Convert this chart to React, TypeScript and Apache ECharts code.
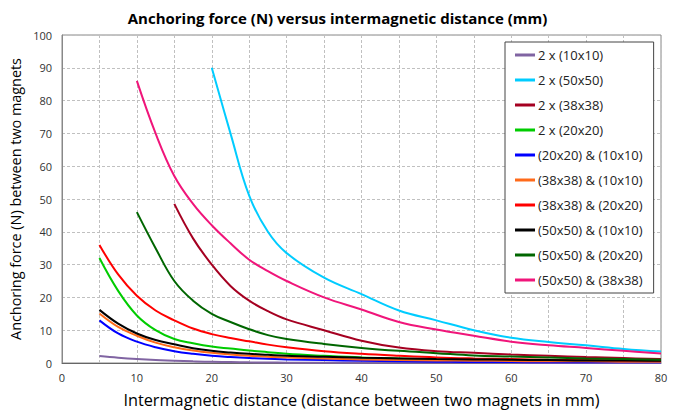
import React, { useEffect, useRef } from "react";
import * as echarts from "echarts";

const distances = [5, 7.5, 10, 12.5, 15, 17.5, 20, 22.5, 25, 27.5, 30, 35, 40, 45, 50, 55, 60, 65, 70, 75, 80];

const seriesNames = [
  "2 x (10x10)",
  "2 x (50x50)",
  "2 x (38x38)",
  "2 x (20x20)",
  "(20x20) & (10x10)",
  "(38x38) & (10x10)",
  "(38x38) & (20x20)",
  "(50x50) & (10x10)",
  "(50x50) & (20x20)",
  "(50x50) & (38x38)",
];

const seriesColors = [
  "#8064a2",
  "#00ccff",
  "#a50021",
  "#00cc00",
  "#0000ff",
  "#ff6a1a",
  "#ff0000",
  "#000000",
  "#006600",
  "#f0157a",
];

// null = not measured at that distance
const v10x10 = [2.1, 1.6, 1.2, 0.9, 0.7, 0.5, 0.35, 0.3, 0.2, 0.15, 0.1, 0.08, 0.06, 0.05, 0.05, 0.04, 0.04, 0.03, 0.03, 0.03, 0.03];
const v50x50 = [null, null, null, null, null, null, 90, 70, 51, 40, 33.5, 26, 21, 16, 13, 10, 7.7, 6.4, 5.4, 4.3, 3.5];
const v38x38 = [null, null, null, null, 48.5, 38, 30, 23.5, 19, 15.8, 13.3, 10, 6.8, 4.7, 3.6, 3.1, 2.6, 2.2, 1.8, 1.5, 1.2];
const v20x20 = [32, 22, 14.5, 10, 7.3, 6, 5, 4.4, 3.8, 3.3, 2.8, 2.2, 1.7, 1.4, 1.1, 0.9, 0.8, 0.7, 0.6, 0.5, 0.5];
const v20and10 = [13, 9, 6.5, 4.8, 3.6, 2.8, 2.2, 1.8, 1.5, 1.3, 1.1, 0.9, 0.7, 0.5, 0.4, 0.3, 0.3, 0.2, 0.2, 0.2, 0.2];
const v38and10 = [15.1, 11, 8.3, 6.2, 4.8, 3.8, 3.1, 2.6, 2.2, 1.9, 1.7, 1.4, 1.1, 0.9, 0.8, 0.7, 0.6, 0.5, 0.5, 0.4, 0.4];
const v38and20 = [36, 27, 20.5, 16, 13, 10.5, 8.8, 7.6, 6.6, 5.6, 4.8, 3.6, 2.8, 2.2, 1.7, 1.4, 1.2, 1.0, 0.9, 0.8, 0.7];
const v50and10 = [16.2, 12, 9, 7, 5.7, 4.5, 3.7, 3.2, 2.8, 2.5, 2.2, 1.9, 1.6, 1.4, 1.2, 1.1, 1.0, 0.9, 0.8, 0.8, 0.7];
const v50and20 = [null, null, 46, 35, 25, 19, 15, 12.5, 10.3, 8.5, 7.3, 5.8, 4.6, 3.7, 3.0, 2.3, 2.0, 1.7, 1.4, 1.2, 1.0];
const v50and38 = [null, null, 86, 70, 57, 48.5, 42, 36.5, 31.5, 28, 25, 20, 16.3, 12.5, 10.2, 8.3, 6.5, 5.4, 4.6, 3.7, 2.9];

const seriesValues = [v10x10, v50x50, v38x38, v20x20, v20and10, v38and10, v38and20, v50and10, v50and20, v50and38];

const xTicks = [0, 10, 20, 30, 40, 50, 60, 70, 80];

export default function App() {
  const ref = useRef<HTMLDivElement>(null);
  useEffect(() => {
    if (!ref.current) return;
    const chart = echarts.init(ref.current, null, { renderer: "svg" });
    const font = "Open Sans, Liberation Sans, sans-serif";
    chart.setOption({
      animation: false,
      backgroundColor: "#ffffff",
      title: {
        text: "Anchoring force (N) versus intermagnetic distance (mm)",
        left: "center",
        top: 5,
        textStyle: { fontFamily: font, fontSize: 15, fontWeight: "bold", color: "#000" },
      },
      grid: {
        left: 62,
        right: 14,
        top: 35,
        bottom: 46,
        show: true,
        borderColor: "#888",
        borderWidth: 1,
        containLabel: false,
      },
      legend: {
        orient: "vertical",
        left: 505,
        top: 42,
        padding: [6, 11, 6, 10],
        itemGap: 11,
        itemWidth: 20,
        itemHeight: 3,
        icon: "rect",
        backgroundColor: "#fff",
        borderColor: "#444",
        borderWidth: 1,
        textStyle: { fontFamily: font, fontSize: 13, lineHeight: 14, color: "#222", padding: [0, 0, 0, -2] },
        data: seriesNames,
      },
      xAxis: {
        type: "value",
        min: 0,
        max: 80,
        interval: 5,
        name: "Intermagnetic distance (distance between two magnets in mm)",
        nameLocation: "middle",
        nameGap: 29,
        nameTextStyle: { fontFamily: font, fontSize: 16.3, color: "#000" },
        axisLine: { show: true, lineStyle: { color: "#666" } },
        axisTick: { show: false },
        axisLabel: {
          fontFamily: font,
          fontSize: 11,
          color: "#333",
          margin: 9,
          formatter: (v: number) => (xTicks.includes(v) ? String(v) : ""),
        },
        splitLine: { show: true, lineStyle: { color: "#c0c0c0", type: [3, 2] } },
      },
      yAxis: {
        type: "value",
        min: 0,
        max: 100,
        interval: 10,
        name: "Anchoring force (N) between two magnets",
        nameLocation: "middle",
        nameGap: 36,
        nameTextStyle: { fontFamily: font, fontSize: 14.4, color: "#000" },
        axisLine: { show: true, lineStyle: { color: "#888" } },
        axisTick: { show: false },
        axisLabel: { fontFamily: font, fontSize: 11, color: "#333", margin: 10 },
        splitLine: { show: true, lineStyle: { color: "#c0c0c0", type: [3, 2] } },
      },
      series: seriesNames.map((name, i) => ({
        name,
        type: "line",
        showSymbol: false,
        symbol: "none",
        smooth: 0.4,
        connectNulls: false,
        lineStyle: { width: 2, color: seriesColors[i] },
        itemStyle: { color: seriesColors[i] },
        data: distances
          .map((d, j) => [d, seriesValues[i][j]])
          .filter((p) => p[1] !== null),
      })),
    });
    return () => chart.dispose();
  }, []);
  return (
    <div
      ref={ref}
      style={{ position: "absolute", left: 0, top: 0, width: 675, height: 413 }}
    />
  );
}
